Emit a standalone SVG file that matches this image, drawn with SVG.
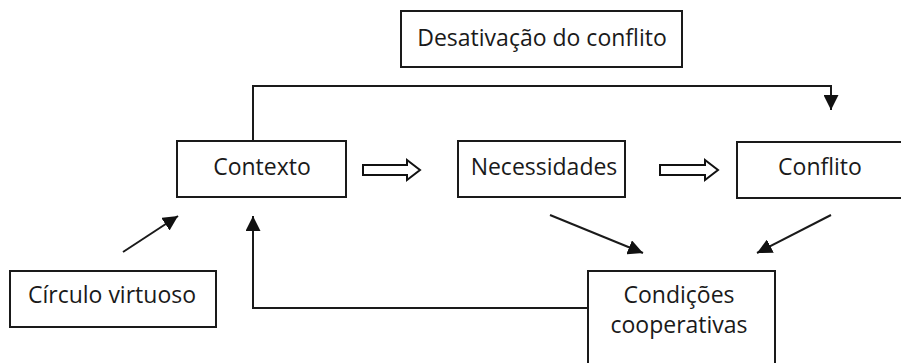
<svg xmlns="http://www.w3.org/2000/svg" width="901" height="363" viewBox="0 0 901 363">
<defs>
<style>
.box{fill:#fff;stroke:#1a1a1a;stroke-width:2}
.t{font-family:"Open Sans","Noto Sans","DejaVu Sans",sans-serif;font-size:23px;fill:#1a1a1a;text-anchor:middle}
.ln{fill:none;stroke:#1a1a1a;stroke-width:2}
.hollow{fill:#fff;stroke:#111;stroke-width:2;stroke-linejoin:miter}
</style>
<marker id="ah" viewBox="0 0 10 10" refX="10" refY="5" markerWidth="15" markerHeight="15" markerUnits="userSpaceOnUse" orient="auto">
<path d="M0,0 L10,5 L0,10 Z" fill="#111"/>
</marker>
</defs>
<rect width="901" height="363" fill="#fff"/>
<g id="desativacao">
<rect class="box" x="401" y="11" width="281" height="56"/>
<text class="t" x="542" y="46">Desativação do conflito</text>
</g>
<g id="contexto">
<rect class="box" x="177" y="141" width="169" height="56"/>
<text class="t" x="262" y="175">Contexto</text>
</g>
<g id="necessidades">
<rect class="box" x="458" y="141" width="167" height="56"/>
<text class="t" x="544" y="175">Necessidades</text>
</g>
<g id="conflito">
<rect class="box" x="737" y="142" width="180" height="56"/>
<text class="t" x="820" y="175">Conflito</text>
</g>
<g id="circulo">
<rect class="box" x="10" y="271" width="206" height="56"/>
<text class="t" x="112" y="303">Círculo virtuoso</text>
</g>
<g id="condicoes">
<rect class="box" x="588" y="271" width="187" height="100"/>
<text class="t" x="679" y="303">Condições</text>
<text class="t" x="679" y="333">cooperativas</text>
</g>
<g id="connectors">
<path class="ln" d="M253,141 V86 H831 V110" marker-end="url(#ah)"/>
<path class="hollow" d="M363,165 H407 V160 L420,170 L407,180 V175 H363 Z"/>
<path class="hollow" d="M660,165 H705 V160 L718,170 L705,180 V175 H660 Z"/>
<path class="ln" d="M123,252 L178,216" marker-end="url(#ah)"/>
<path class="ln" d="M588,308 H253 V216" marker-end="url(#ah)"/>
<path class="ln" d="M550,215 L643,253" marker-end="url(#ah)"/>
<path class="ln" d="M831,215 L757,253" marker-end="url(#ah)"/>
</g>
</svg>
